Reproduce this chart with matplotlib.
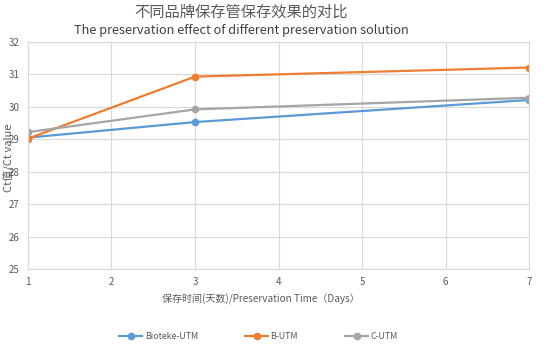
import matplotlib
matplotlib.use("Agg")
import matplotlib.pyplot as plt

plt.rcParams['font.family'] = ['Noto Sans CJK SC', 'DejaVu Sans']

days = [1, 3, 7]
bioteke = [29.05, 29.53, 30.21]
b_utm = [29.02, 30.93, 31.21]
c_utm = [29.22, 29.92, 30.28]
series_names = ['Bioteke-UTM', 'B-UTM', 'C-UTM']
colors = ['#5B9BD5', '#ED7D31', '#A5A5A5']

fig = plt.figure(figsize=(5.54, 3.55), dpi=100)
ax = fig.add_axes([0.0505, 0.242, 0.9045, 0.640])

for vals, name, c in zip([bioteke, b_utm, c_utm], series_names, colors):
    ax.plot(days, vals, color=c, lw=1.6, marker='o', ms=4.5, label=name)

ax.set_xlim(1, 7)
ax.set_ylim(25, 32)
ax.set_xticks(range(1, 8))
ax.set_yticks(range(25, 33))
ax.grid(True, color='#D9D9D9', lw=0.8)
ax.set_axisbelow(True)
for s in ax.spines.values():
    s.set_color('#D9D9D9')
    s.set_linewidth(0.8)
ax.tick_params(length=0, labelsize=7, colors='#595959', pad=6)

fig.text(0.435, 0.965, '不同品牌保存管保存效果的对比', ha='center', va='center',
         fontsize=11, color='#595959')
fig.text(0.435, 0.913, 'The preservation effect of different preservation solution',
         ha='center', va='center', fontsize=9.2, color='#404040')
fig.text(0.471, 0.158, '保存时间(天数)/Preservation Time（Days）', ha='center', va='center',
         fontsize=7.2, color='#595959')
fig.text(0.015, 0.555, 'Ct值/Ct value', rotation=90, ha='center', va='center',
         fontsize=8, color='#595959')

fig.legend(loc='center', bbox_to_anchor=(0.467, 0.051), ncol=3, frameon=False,
           fontsize=6.3, labelcolor='#595959', handlelength=2.6, columnspacing=5.4,
           handletextpad=0.3)

fig.savefig('out.png', dpi=100)
